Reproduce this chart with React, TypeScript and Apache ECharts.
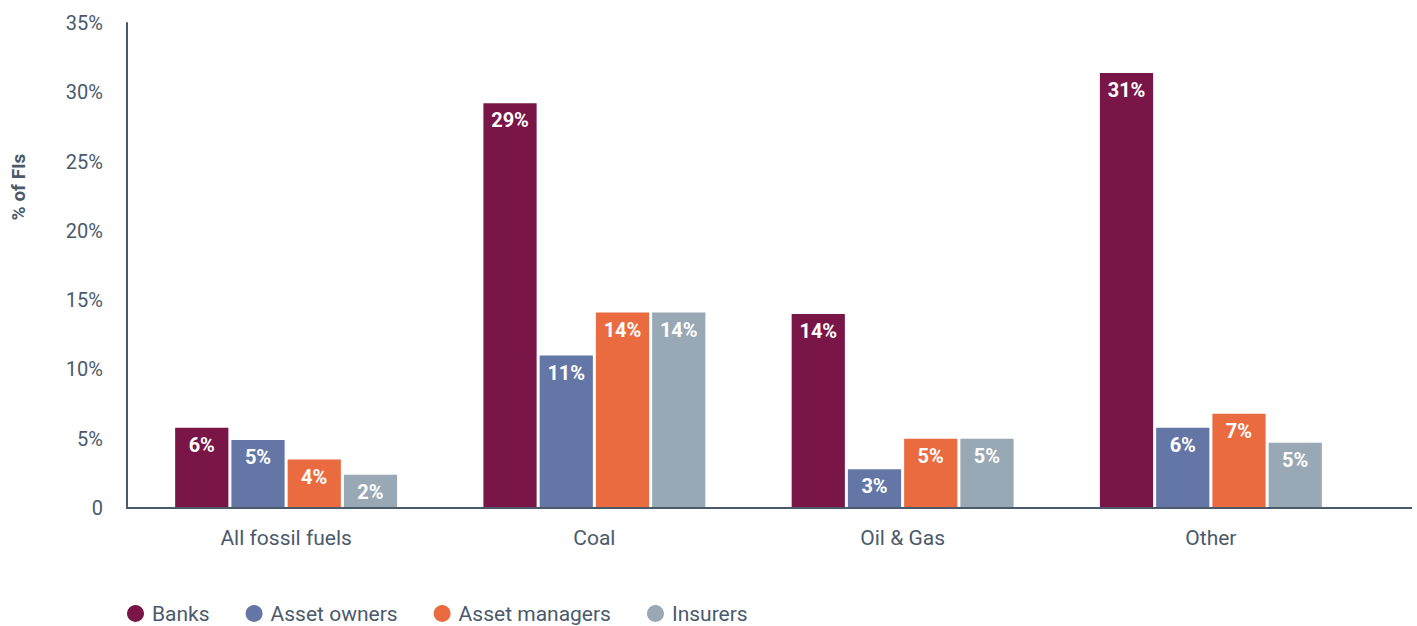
import React, { useEffect, useRef } from "react";
import * as echarts from "echarts";

const categories = ["All fossil fuels", "Coal", "Oil & Gas", "Other"];
const seriesNames = ["Banks", "Asset owners", "Asset managers", "Insurers"];
const banks = [5.8, 29.2, 14.0, 31.4];
const assetOwners = [4.9, 11.0, 2.8, 5.8];
const assetManagers = [3.5, 14.1, 5.0, 6.8];
const insurers = [2.4, 14.1, 5.0, 4.7];
const colors = ["#7a1547", "#6476a6", "#eb6b40", "#98a8b4"];
const yTicks = { min: 0, max: 35, interval: 5 };

export default function App() {
  const ref = useRef<HTMLDivElement>(null);
  useEffect(() => {
    if (!ref.current) return;
    const chart = echarts.init(ref.current, null, { renderer: "svg" });
    const values = [banks, assetOwners, assetManagers, insurers];
    const axisColor = "#4a5a6b";
    chart.setOption({
      animation: false,
      textStyle: { fontFamily: "Roboto" },
      grid: { left: 132, right: 52, top: 23, bottom: 118 },
      legend: {
        left: 127,
        top: 603,
        padding: 0,
        icon: "circle",
        itemWidth: 17,
        itemHeight: 17,
        itemGap: 36,
        textStyle: { fontSize: 21, color: axisColor, fontFamily: "Roboto", padding: [0, 0, 0, 3] },
        data: seriesNames,
      },
      graphic: [
        {
          type: "text",
          x: 18,
          y: 187,
          rotation: Math.PI / 2,
          style: {
            text: "% of FIs",
            fontSize: 19,
            fontWeight: "bold",
            fill: axisColor,
            fontFamily: "Roboto",
            textAlign: "center",
            textVerticalAlign: "middle",
          },
        },
        {
          type: "line",
          shape: { x1: 126, y1: 508, x2: 1412, y2: 508 },
          style: { stroke: axisColor, lineWidth: 2 },
          z: 10,
        },
      ],
      xAxis: {
        type: "category",
        data: categories,
        axisLine: { show: false },
        axisTick: { show: false },
        axisLabel: { fontSize: 21, color: axisColor, margin: 19 },
      },
      yAxis: {
        type: "value",
        min: yTicks.min,
        max: yTicks.max,
        interval: yTicks.interval,
        offset: 5,
        axisLine: { show: true, lineStyle: { color: axisColor, width: 2 } },
        axisTick: { show: false },
        splitLine: { show: false },
        axisLabel: {
          fontSize: 20,
          color: axisColor,
          margin: 24,
          formatter: (v: number) => (v === 0 ? "0" : v + "%"),
        },
      },
      series: seriesNames.map((name, i) => ({
        name,
        type: "bar",
        data: values[i],
        barGap: "5.7%",
        barCategoryGap: "28%",
        itemStyle: { color: colors[i] },
        label: {
          show: true,
          position: "insideTop",
          distance: 7,
          color: "#ffffff",
          fontWeight: "bold",
          fontSize: 20,
          fontFamily: "Roboto",
          formatter: (p: any) => Math.round(p.value) + "%",
        },
      })),
    });
    return () => chart.dispose();
  }, []);
  return (
    <div
      ref={ref}
      style={{ position: "fixed", left: 0, top: 0, width: 1417, height: 626, background: "#fff" }}
    />
  );
}
